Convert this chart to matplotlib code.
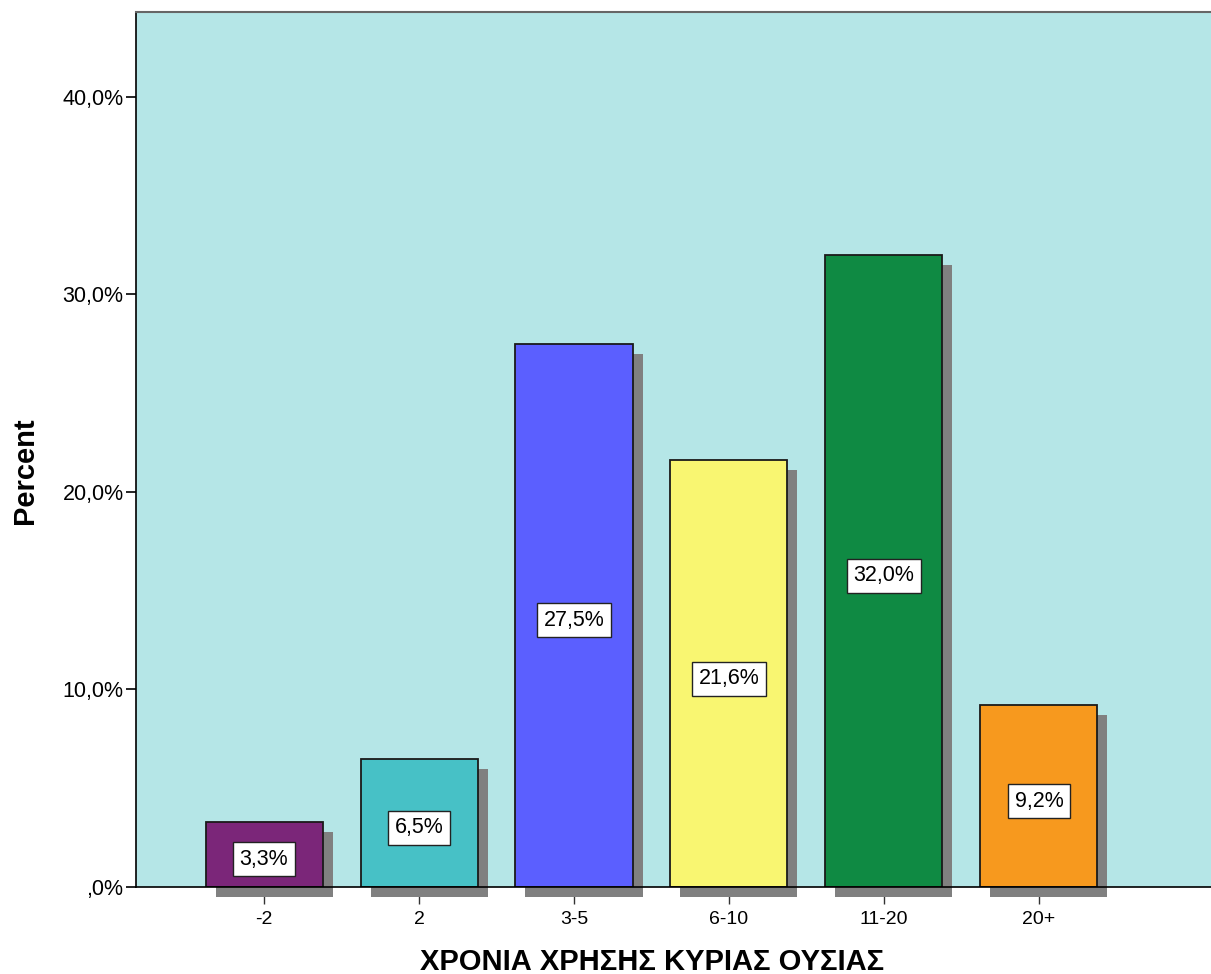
import numpy as np
import matplotlib
matplotlib.use("Agg")
import matplotlib.pyplot as plt
import matplotlib.transforms as mtransforms

plt.rcParams['font.family'] = ['Liberation Sans', 'DejaVu Sans']

categories = ['-2', '2', '3-5', '6-10', '11-20', '20+']
percent = [3.3, 6.5, 27.5, 21.6, 32.0, 9.2]
bar_colors = ['#7b2679', '#47c1c6', '#5b5fff', '#f9f671', '#0f8a43', '#f7991e']

fig = plt.figure(figsize=(12.11, 9.74), dpi=100)
ax = fig.add_axes([136 / 1211, 87 / 974, 1 - 136 / 1211, 875 / 974])
ax.set_facecolor('#b5e6e7')

x = np.arange(len(categories))
width = 0.755

# drop shadow, shifted 10px right and 10px down
shadow_tr = ax.transData + mtransforms.ScaledTranslation(0.10, -0.10, fig.dpi_scale_trans)
ax.bar(x, percent, width=width, color='#808080', edgecolor='none',
       transform=shadow_tr, clip_on=False, zorder=1)
ax.bar(x, percent, width=width, color=bar_colors, edgecolor='#1a1a1a',
       linewidth=1.3, zorder=3)

for xi, p in zip(x, percent):
    ax.annotate(f"{p:.1f}%".replace('.', ','), (xi, p / 2), xytext=(0, -3.6),
                textcoords='offset points', ha='center', va='center',
                fontsize=15.5, zorder=4,
                bbox=dict(boxstyle='square,pad=0.3', fc='white', ec='#222222', lw=1))

ax.set_xlim(-0.826, 6.11)
ax.set_ylim(0, 44.3)
ax.set_yticks([0, 10, 20, 30, 40])
ax.set_yticklabels([',0%', '10,0%', '20,0%', '30,0%', '40,0%'], fontsize=15.5)
ax.set_xticks(x)
ax.set_xticklabels(categories, fontsize=14)
ax.tick_params(axis='y', length=7, width=1.2, pad=2)
ax.tick_params(axis='x', length=12, width=1, pad=5, color='#333333')
ax.xaxis.set_zorder(0.5)

ax.spines['right'].set_visible(False)
ax.spines['top'].set_color('#666666')
ax.spines['top'].set_linewidth(1.5)
ax.spines['left'].set_linewidth(1.2)
ax.spines['bottom'].set_linewidth(1.2)
ax.spines['bottom'].set_zorder(5)

fig.text(25 / 1211, 1 - 471 / 974, 'Percent', rotation=90, ha='center', va='center',
         fontsize=21, fontweight='bold')
fig.text(652 / 1211, 1 - 962 / 974, 'ΧΡΟΝΙΑ ΧΡΗΣΗΣ ΚΥΡΙΑΣ ΟΥΣΙΑΣ', ha='center', va='center',
         fontsize=21, fontweight='bold')

fig.savefig('out.png', dpi=100)
